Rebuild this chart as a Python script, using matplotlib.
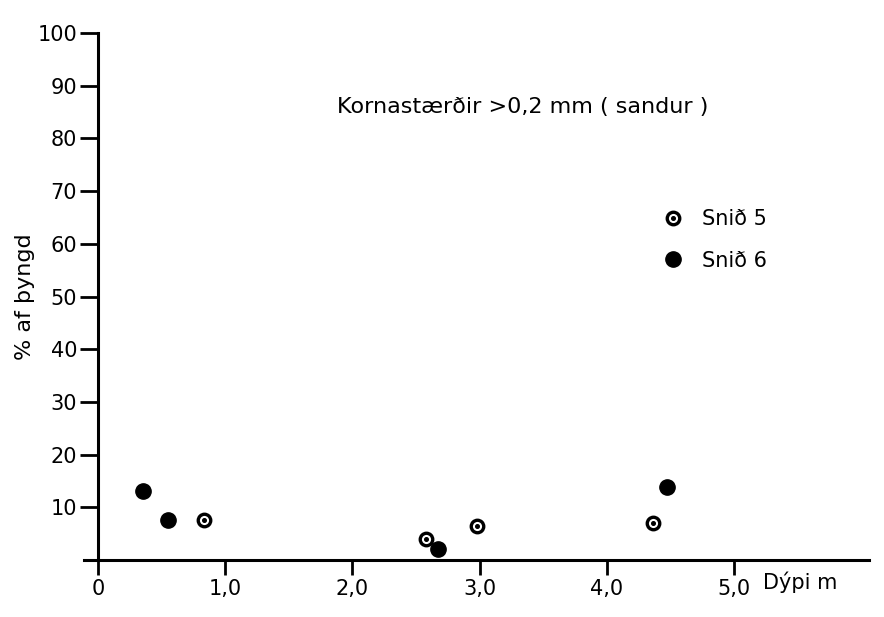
import matplotlib
matplotlib.use("Agg")
import matplotlib.pyplot as plt
from matplotlib.legend_handler import HandlerTuple

# Depth (m) and percentage by weight of grains > 0.2 mm
snid5_depth = [0.83, 2.58, 2.98, 4.36]
snid5_pct = [7.5, 4.0, 6.5, 7.0]
snid6_depth = [0.35, 0.55, 2.67, 4.47]
snid6_pct = [13.0, 7.6, 2.1, 13.8]

x_ticks = [0, 1, 2, 3, 4, 5]
x_tick_labels = ["0", "1,0", "2,0", "3,0", "4,0", "5,0"]
y_ticks = [10, 20, 30, 40, 50, 60, 70, 80, 90, 100]

plt.rcParams["font.family"] = ["DejaVu Sans"]

fig = plt.figure(figsize=(8.84, 6.17), dpi=100)
ax = fig.add_axes([0.095, 0.0924, 0.888, 0.854])

ring_kw = dict(linestyle="none", marker="o", markersize=9, markerfacecolor="white",
               markeredgecolor="black", markeredgewidth=2.4)
dot_kw = dict(linestyle="none", marker="o", markersize=2.6, color="black")
fill_kw = dict(linestyle="none", marker="o", markersize=11, color="black")

r1, = ax.plot(snid5_depth, snid5_pct, **ring_kw, zorder=3)
r2, = ax.plot(snid5_depth, snid5_pct, **dot_kw, zorder=4)
f1, = ax.plot(snid6_depth, snid6_pct, **fill_kw, zorder=3)

ax.set_xlim(-0.11, 6.06)
ax.set_ylim(0, 100)

for side in ("top", "right"):
    ax.spines[side].set_visible(False)
ax.spines["left"].set_position(("data", 0))
ax.spines["left"].set_linewidth(2.2)
ax.spines["bottom"].set_linewidth(2.2)

ax.set_xticks(x_ticks)
ax.set_xticklabels(x_tick_labels)
ax.set_yticks(y_ticks)
ax.set_yticklabels([str(v) for v in y_ticks])
ax.tick_params(axis="x", direction="out", length=11, width=2.0, pad=3, labelsize=15)
ax.tick_params(axis="y", direction="out", length=13, width=2.0, pad=2, labelsize=15)

ax.set_ylabel("% af þyngd", fontsize=16)
ax.yaxis.set_label_coords(-0.063, 0.5)
ax.set_xlabel("Dýpi m", fontsize=15, ha="left")
ax.xaxis.set_label_coords(0.865, -0.022)
ax.xaxis.label.set_va("top")

ax.text(0.559, 0.86, "Kornastærðir >0,2 mm ( sandur )", transform=ax.transAxes,
        fontsize=16, ha="center", va="center")

ax.legend([(r1, r2), f1], ["Snið 5", "Snið 6"],
          handler_map={tuple: HandlerTuple(ndivide=1)},
          frameon=False, fontsize=15, loc="upper left", bbox_to_anchor=(0.7135, 0.702),
          handlelength=1.0, handletextpad=0.9, labelspacing=1.04)

fig.savefig("out.png", dpi=100)
